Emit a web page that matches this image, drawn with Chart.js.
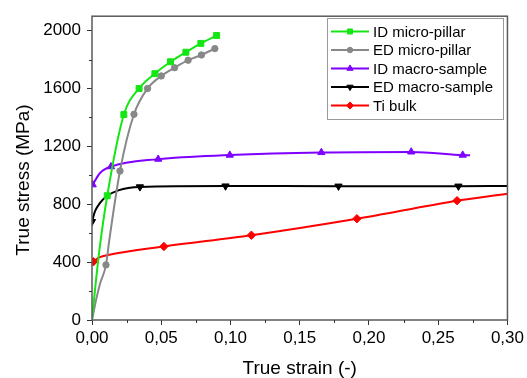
<!DOCTYPE html>
<html><head><meta charset="utf-8">
<script src="https://cdn.jsdelivr.net/npm/chart.js@4/dist/chart.umd.min.js"></script>
<style>html,body{margin:0;padding:0;background:#fff}</style>
</head><body>
<canvas id="c" width="527" height="378"></canvas>
<script>
// ---- data ----
const seriesNames = ['ID micro-pillar', 'ED micro-pillar', 'ID macro-sample', 'ED macro-sample', 'Ti bulk'];

const idMicroX = [0, 0.0053, 0.011, 0.023, 0.034, 0.0454, 0.0567, 0.0678, 0.0786, 0.090];
const idMicroY = [10, 479, 859, 1420, 1600, 1703, 1785, 1851, 1912, 1967];
const idMicroMarks = [2, 3, 4, 5, 6, 7, 8, 9];

const edMicroX = [0, 0.0029, 0.0058, 0.0101, 0.0126, 0.0202, 0.0303, 0.0401, 0.050, 0.0596, 0.0694, 0.079, 0.0887];
const edMicroY = [0, 137, 251, 381, 560, 1030, 1422, 1600, 1687, 1744, 1796, 1832, 1876];
const edMicroMarks = [3, 5, 6, 7, 8, 9, 10, 11, 12];

const idMacroX = [0.0005, 0.0058, 0.0137, 0.0478, 0.0995, 0.1656, 0.2305, 0.2677, 0.273];
const idMacroY = [935, 1016, 1060, 1112, 1140, 1158, 1162, 1140, 1138];
const idMacroMarks = [0, 2, 3, 4, 5, 6, 7];

const edMacroX = [0, 0.0022, 0.0058, 0.0106, 0.019, 0.0346, 0.0964, 0.178, 0.2646, 0.30];
const edMacroY = [680, 752, 809, 855, 896, 920, 926, 925, 925, 926];
const edMacroMarks = [0, 5, 6, 7, 8];

const tiBulkX = [0.001, 0.0053, 0.0125, 0.0519, 0.1151, 0.1913, 0.2636, 0.30];
const tiBulkY = [403, 433, 451, 508, 586, 700, 825, 873];
const tiBulkMarks = [0, 3, 4, 5, 6];

const xTicks = [0, 0.05, 0.10, 0.15, 0.20, 0.25, 0.30];
const xMinorTicks = [0.025, 0.075, 0.125, 0.175, 0.225, 0.275];
const yTicks = [0, 400, 800, 1200, 1600, 2000];
const yMinorTicks = [200, 600, 1000, 1400, 1800];

const xTitle = 'True strain (-)';
const yTitle = 'True stress (MPa)';

// ---- styles ----
const FONT = '"Liberation Sans", Arial, sans-serif';
const styles = [
  {color: '#14e614', pointStyle: 'rect', radius: 4.2, rotation: 0},
  {color: '#888888', pointStyle: 'circle', radius: 3.2, rotation: 0},
  {color: '#7f00ff', pointStyle: 'triangle', radius: 4.2, rotation: 0},
  {color: '#000000', pointStyle: 'triangle', radius: 4.2, rotation: 180},
  {color: '#ff0000', pointStyle: 'rectRot', radius: 4.2, rotation: 0}
];
const xs = [idMicroX, edMicroX, idMacroX, edMacroX, tiBulkX];
const ys = [idMicroY, edMicroY, idMacroY, edMacroY, tiBulkY];
const marks = [idMicroMarks, edMicroMarks, idMacroMarks, edMacroMarks, tiBulkMarks];

const datasets = seriesNames.map((name, i) => ({
  label: name,
  data: xs[i].map((x, k) => ({x: x, y: ys[i][k]})),
  borderColor: styles[i].color,
  backgroundColor: styles[i].color,
  borderWidth: 2,
  pointStyle: styles[i].pointStyle,
  pointRotation: styles[i].rotation,
  pointRadius: ctx => marks[i].includes(ctx.dataIndex) ? styles[i].radius : 0,
  pointBorderWidth: 1,
  cubicInterpolationMode: 'monotone',
  clip: 0,
  fill: false
}));

function drawMarker(ctx, st, x, y, scale) {
  ctx.save();
  ctx.fillStyle = st.color; ctx.strokeStyle = st.color; ctx.lineWidth = 1;
  const r = st.radius * scale;
  ctx.beginPath();
  if (st.pointStyle === 'rect') {
    const s = r * Math.SQRT1_2; ctx.rect(x - s, y - s, 2 * s, 2 * s);
  } else if (st.pointStyle === 'circle') {
    ctx.arc(x, y, r, 0, Math.PI * 2);
  } else if (st.pointStyle === 'triangle') {
    const dir = st.rotation === 180 ? -1 : 1;
    ctx.moveTo(x, y - dir * r);
    ctx.lineTo(x - r * 0.866, y + dir * r * 0.5);
    ctx.lineTo(x + r * 0.866, y + dir * r * 0.5);
    ctx.closePath();
  } else if (st.pointStyle === 'rectRot') {
    ctx.moveTo(x, y - r); ctx.lineTo(x + r, y); ctx.lineTo(x, y + r); ctx.lineTo(x - r, y); ctx.closePath();
  }
  ctx.fill(); ctx.stroke();
  ctx.restore();
}

const decorPlugin = {
  id: 'decor',
  afterDatasetsDraw(chart) {
    const {ctx, chartArea: a} = chart;
    const sx = chart.scales.x, sy = chart.scales.y;
    ctx.save();
    // frame
    ctx.strokeStyle = '#5a5a5a'; ctx.lineWidth = 1.5;
    ctx.strokeRect(a.left, a.top, a.right - a.left, a.bottom - a.top);
    // minor ticks
    ctx.strokeStyle = '#333'; ctx.lineWidth = 1;
    ctx.beginPath();
    xMinorTicks.forEach(v => { const p = Math.round(sx.getPixelForValue(v)) + 0.5; ctx.moveTo(p, a.bottom); ctx.lineTo(p, a.bottom + 3); });
    yMinorTicks.forEach(v => { const p = Math.round(sy.getPixelForValue(v)) + 0.5; ctx.moveTo(a.left, p); ctx.lineTo(a.left - 3, p); });
    ctx.stroke();
    // axis titles
    ctx.fillStyle = '#000';
    ctx.font = '19px ' + FONT;
    ctx.textAlign = 'center'; ctx.textBaseline = 'middle';
    ctx.fillText(xTitle, (a.left + a.right) / 2, 369);
    ctx.save();
    ctx.translate(24, 180);
    ctx.rotate(-Math.PI / 2);
    ctx.fillText(yTitle, 0, 0);
    ctx.restore();
    // legend
    const lx = 327.5, ly = 18.5, lw = 176, lh = 101;
    ctx.fillStyle = '#fff';
    ctx.fillRect(lx, ly, lw, lh);
    ctx.strokeStyle = '#9a9a9a'; ctx.lineWidth = 1;
    ctx.strokeRect(lx, ly, lw, lh);
    ctx.font = '15px ' + FONT;
    ctx.textAlign = 'left'; ctx.textBaseline = 'middle';
    seriesNames.forEach((name, i) => {
      const yy = 31.5 + i * 18.5;
      ctx.strokeStyle = styles[i].color; ctx.lineWidth = 2;
      ctx.beginPath(); ctx.moveTo(331, yy); ctx.lineTo(369, yy); ctx.stroke();
      drawMarker(ctx, styles[i], 350, yy, 0.85);
      ctx.fillStyle = '#000';
      ctx.fillText(name, 373, yy + 1);
    });
    ctx.restore();
  }
};

const fmtX = v => v.toFixed(2).replace('.', ',');

new Chart(document.getElementById('c'), {
  type: 'line',
  data: {datasets},
  options: {
    responsive: false,
    animation: false,
    layout: {padding: {left: 0, right: 19, top: 13, bottom: 0}},
    plugins: {legend: {display: false}, tooltip: {enabled: false}},
    scales: {
      x: {
        type: 'linear', min: 0, max: 0.30,
        afterBuildTicks: s => { s.ticks = xTicks.map(v => ({value: v})); },
        afterFit: s => { s.height = 58; },
        ticks: {font: {family: FONT, size: 17}, color: '#000', padding: 3, maxRotation: 0, autoSkip: false,
                callback: v => fmtX(v)},
        grid: {drawOnChartArea: false, drawTicks: true, tickLength: 5, tickColor: '#333', tickWidth: 1},
        border: {display: false}
      },
      y: {
        type: 'linear', min: 0, max: 2100,
        afterBuildTicks: s => { s.ticks = yTicks.map(v => ({value: v})); },
        afterFit: s => { s.width = 92; },
        ticks: {font: {family: FONT, size: 17}, color: '#000', padding: 6, autoSkip: false,
                callback: v => String(v)},
        grid: {drawOnChartArea: false, drawTicks: true, tickLength: 5, tickColor: '#333', tickWidth: 1},
        border: {display: false}
      }
    }
  },
  plugins: [decorPlugin]
});
</script>
</body></html>
